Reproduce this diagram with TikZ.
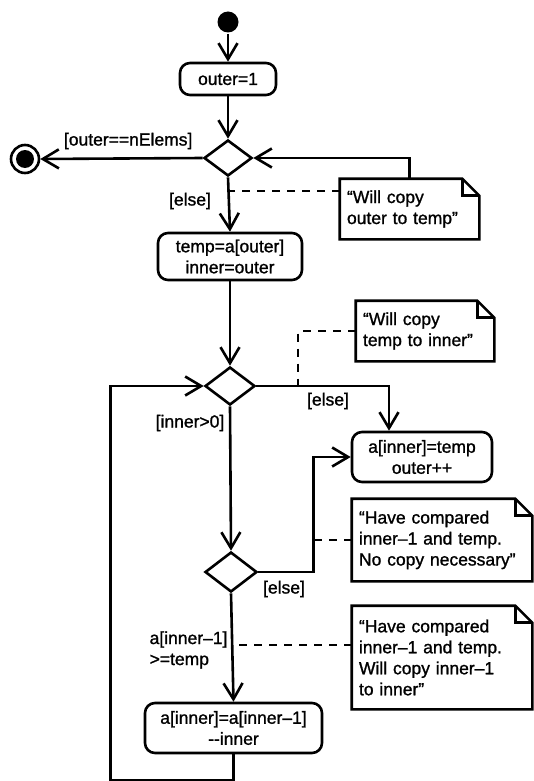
\documentclass[tikz,border=0pt]{standalone}
\usepackage{fontspec}
\setmainfont{Liberation Sans}[FakeBold=1.2]
\usetikzlibrary{shapes.geometric,arrows.meta}

\begin{document}
\begin{tikzpicture}[x=1pt,y=-1pt,line width=2.6pt,font=\fontsize{17.5}{21}\selectfont,
  flow/.style={-{Straight Barb[length=16pt,width=19pt]}},
  action/.style={draw,rounded corners=10pt,align=center,inner sep=0pt},
  decision/.style={draw,diamond,inner sep=0pt},
  notebox/.style={align=left,inner sep=0pt},
  notelink/.style={dash pattern=on 8pt off 7pt,line width=2.2pt}]
\useasboundingbox (0,0) rectangle (533,781);
% activities and decisions
\node[circle,fill,minimum size=21pt,inner sep=0pt] (start) at (228,22) {};
\node[action,minimum width=96,minimum height=32] (act1) at (228,79) {outer=1};
\node[decision,minimum width=48,minimum height=36] (dec1) at (228,158) {};
\node[circle,draw,minimum size=28pt,inner sep=0pt] (stop) at (25,159) {};
\fill (stop.center) circle[radius=9];
\node[action,minimum width=144,minimum height=47] (act2) at (230,256.5) {temp=a[outer]\\inner=outer};
\node[decision,minimum width=50,minimum height=38] (dec2) at (230,386) {};
\node[action,minimum width=140,minimum height=50] (act3) at (422,457) {a[inner]=temp\\outer++};
\node[decision,minimum width=52,minimum height=40] (dec3) at (231,572) {};
\node[action,minimum width=177,minimum height=50] (act4) at (233.5,728) {a[inner]=a[inner–1]\\-{}-inner};
% notes
\node[notebox,minimum width=137,minimum height=58,text width=125] (nA) at (409.5,209) {“Will copy\\outer to temp”};
\node[notebox,minimum width=136,minimum height=58,text width=124] (nB) at (425,331) {“Will copy\\temp to inner”};
\node[notebox,minimum width=178,minimum height=80,text width=166] (nC) at (442,540) {“Have compared\\inner–1 and temp.\\No copy necessary”};
\node[notebox,minimum width=178,minimum height=101,text width=166] (nD) at (442,657.5) {“Have compared\\inner–1 and temp.\\Will copy inner–1\\to inner”};
\foreach \n in {nA,nB,nC,nD}{
  \draw (\n.south west) -- (\n.north west) -- ([xshift=-17pt]\n.north east) -- ([yshift=-17pt]\n.north east) -- (\n.south east) -- cycle;
  \draw ([xshift=-17pt]\n.north east) |- ([yshift=-17pt]\n.north east);
}
% guards
\node[anchor=east] (gA) at (197,141) {[outer==nElems]};
\node (gB) at (190,201) {[else]};
\node (gC) at (328,401) {[else]};
\node (gD) at (190,423) {[inner>0]};
\node (gE) at (284,589) {[else]};
\node[anchor=west,align=left] (gF) at (145,650) {a[inner–1]\\>=temp};
% flows
\draw[flow] (start) -- (act1);
\draw[flow] (act1) -- (dec1);
\draw[flow] (dec1.west) -- (stop.east);
\draw[flow] (nA.north) |- (dec1.east);
\draw[flow] (dec1.south) -- (act2.north);
\draw[flow] (act2.south) -- (dec2.north);
\draw[flow] (dec2.east) -| ([xshift=-33pt]act3.north);
\draw[flow] (dec2.south) -- (dec3.north);
\draw[flow] (dec3.east) -- ++(55,0) coordinate (kC) |- (act3.west);
\draw[flow] (dec3.south) -- (act4.north);
\draw[flow] (act4.south) |- ++(-123,26) |- (dec2.west);
% note links
\coordinate (kA) at ([yshift=-12pt]nA.north west);
\draw[notelink] (kA) -- (kA -| dec1);
\coordinate (kB) at ([xshift=42pt]dec2.east);
\draw[notelink] (nB.west) -| (kB);
\draw[notelink] (nC.west) -- (nC.west -| kC);
\coordinate (kD) at ([yshift=12.5pt]nD.west);
\draw[notelink] (kD) -- (kD -| dec3);
\end{tikzpicture}
\end{document}
